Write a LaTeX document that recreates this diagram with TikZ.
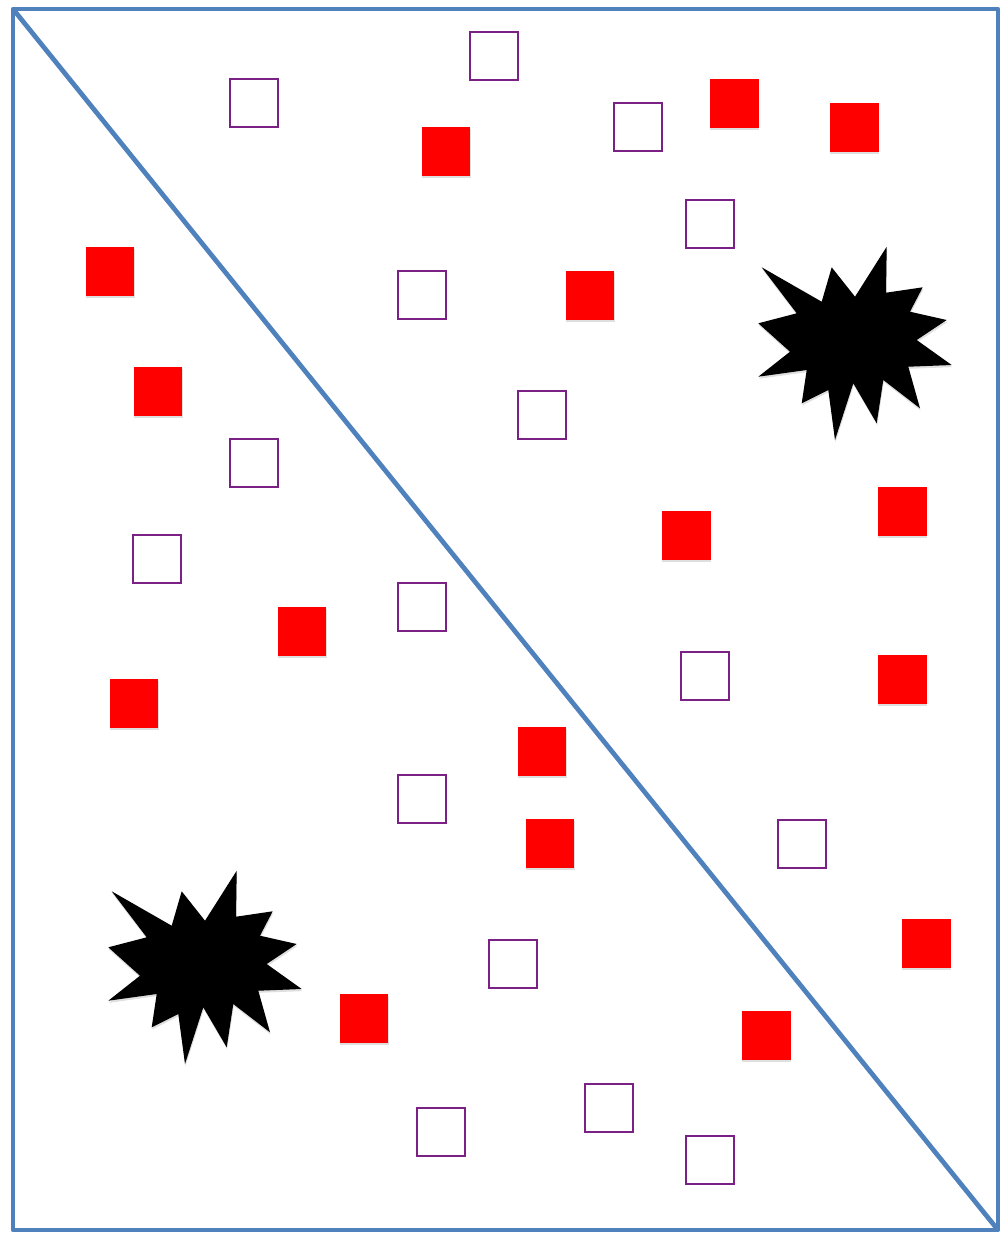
\documentclass[tikz,border=0pt]{standalone}
\usetikzlibrary{shadows}
\definecolor{frameblue}{HTML}{4F81BD}
\definecolor{boxpurple}{HTML}{7B2085}
\begin{document}
\begin{tikzpicture}[
    x=0.02cm, y=-0.02cm,
    emptybox/.style={draw=boxpurple, line width=0.9pt, fill=white, minimum size=0.96cm, inner sep=0pt},
    fullbox/.style={fill=red, minimum size=0.98cm, inner sep=0pt, drop shadow={shadow xshift=0.3pt, shadow yshift=-1.2pt, opacity=0.25}},
    border/.style={draw=frameblue, line width=2.7pt, line join=round},
    burst/.pic={
        \fill[black, drop shadow={shadow xshift=0.3pt, shadow yshift=-1.2pt, opacity=0.25}]
            (-93.3,-75.7) -- (-33.3,-41.3) -- (-23.3,-75.7) -- (0,-46.3) -- (31.7,-96.3) -- (31,-50.3)
            -- (67.7,-55.7) -- (55,-31.3) -- (91.7,-23) -- (61.7,-3) -- (96.7,22) -- (53.3,23.7)
            -- (65,65.3) -- (28.3,37) -- (21.7,80.3) -- (-1.7,40.3) -- (-20,97) -- (-26.7,47)
            -- (-53.3,60.3) -- (-48.3,27) -- (-96.7,33.7) -- (-65,8.7) -- (-96.7,-19.7) -- (-58.3,-29.7) -- cycle;
    }
]
\useasboundingbox (0,0) rectangle (1008,1235);

% Frame and diagonal
\coordinate (tl) at (13,9);
\coordinate (br) at (998,1230);
\draw[border] (tl) rectangle (br);
\draw[border] (tl) -- (br);

% Empty squares
\node[emptybox] (e1) at (494,56) {};
\node[emptybox] (e2) at (254,103) {};
\node[emptybox] (e3) at (638,127) {};
\node[emptybox] (e4) at (710,224) {};
\node[emptybox] (e5) at (422,295) {};
\node[emptybox] (e6) at (542,415) {};
\node[emptybox] (e7) at (254,463) {};
\node[emptybox] (e8) at (157,559) {};
\node[emptybox] (e9) at (422,607) {};
\node[emptybox] (e10) at (705,676) {};
\node[emptybox] (e11) at (422,799) {};
\node[emptybox] (e12) at (802,844) {};
\node[emptybox] (e13) at (513,964) {};
\node[emptybox] (e14) at (609,1108) {};
\node[emptybox] (e15) at (441,1132) {};
\node[emptybox] (e16) at (710,1160) {};

% Filled squares
\node[fullbox] (f1) at (734,103) {};
\node[fullbox] (f2) at (854,127) {};
\node[fullbox] (f3) at (446,151) {};
\node[fullbox] (f4) at (110,271) {};
\node[fullbox] (f5) at (590,295) {};
\node[fullbox] (f6) at (158,391) {};
\node[fullbox] (f7) at (902,511) {};
\node[fullbox] (f8) at (686,535) {};
\node[fullbox] (f9) at (302,631) {};
\node[fullbox] (f10) at (902,679) {};
\node[fullbox] (f11) at (134,703) {};
\node[fullbox] (f12) at (542,751) {};
\node[fullbox] (f13) at (550,843) {};
\node[fullbox] (f14) at (926,943) {};
\node[fullbox] (f15) at (364,1018) {};
\node[fullbox] (f16) at (766,1035) {};

% Bursts
\pic (b1) at (855,343) {burst};
\pic (b2) at (205,967) {burst};
\end{tikzpicture}
\end{document}
